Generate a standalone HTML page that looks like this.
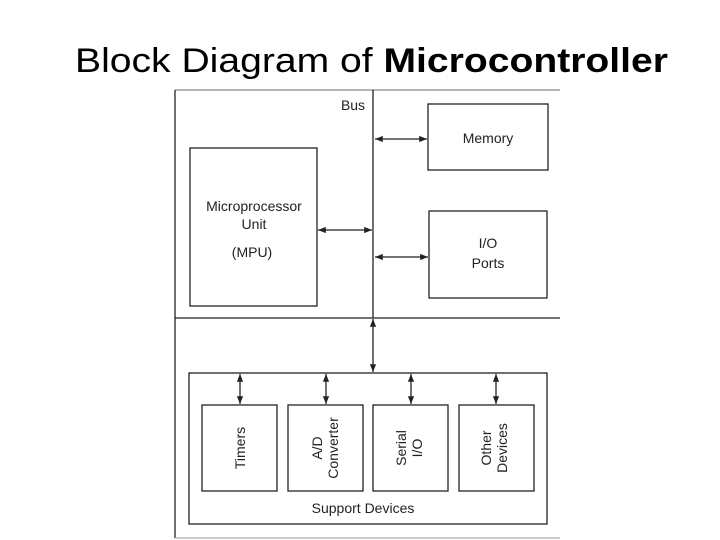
<!DOCTYPE html>
<html><head><style>body{margin:0;background:#fff;}svg{display:block}</style></head>
<body>
<svg width="720" height="540" xmlns="http://www.w3.org/2000/svg" font-family="Liberation Sans, DejaVu Sans, sans-serif">
<defs>
<marker id="a" viewBox="0 0 10 10" refX="10" refY="5" markerWidth="6" markerHeight="6" orient="auto-start-reverse"><path d="M0,1 L10,5 L0,9 z" fill="#222"/></marker>
</defs>
<text x="75" y="72" font-size="34" fill="#000" textLength="593" lengthAdjust="spacingAndGlyphs">Block Diagram of <tspan font-weight="bold">Microcontroller</tspan></text>
<g fill="none" stroke="#222" stroke-width="1.3">
<line x1="175" y1="90" x2="560" y2="90" stroke="#888"/>
<line x1="175" y1="90" x2="175" y2="538"/>
<line x1="175" y1="538" x2="560" y2="538" stroke="#aaa"/>
<line x1="175" y1="318" x2="560" y2="318"/>
<line x1="373" y1="90" x2="373" y2="318"/>
<rect x="190" y="148" width="127" height="158"/>
<rect x="428" y="104" width="120" height="66"/>
<rect x="429" y="211" width="118" height="87"/>
<rect x="189" y="373" width="358" height="151"/>
<rect x="202" y="405" width="75" height="86"/>
<rect x="288" y="405" width="75" height="86"/>
<rect x="373" y="405" width="75" height="86"/>
<rect x="459" y="405" width="75" height="86"/>
<line x1="375" y1="139" x2="427" y2="139" marker-start="url(#a)" marker-end="url(#a)"/>
<line x1="318" y1="230" x2="372" y2="230" marker-start="url(#a)" marker-end="url(#a)"/>
<line x1="375" y1="257" x2="428" y2="257" marker-start="url(#a)" marker-end="url(#a)"/>
<line x1="373" y1="319" x2="373" y2="372" marker-start="url(#a)" marker-end="url(#a)"/>
<line x1="240" y1="374" x2="240" y2="404" marker-start="url(#a)" marker-end="url(#a)"/>
<line x1="326" y1="374" x2="326" y2="404" marker-start="url(#a)" marker-end="url(#a)"/>
<line x1="411" y1="374" x2="411" y2="404" marker-start="url(#a)" marker-end="url(#a)"/>
<line x1="496" y1="374" x2="496" y2="404" marker-start="url(#a)" marker-end="url(#a)"/>
</g>
<g fill="#222" font-size="14" text-anchor="middle">
<text x="353" y="110">Bus</text>
<text x="488" y="143">Memory</text>
<text x="488" y="248">I/O</text>
<text x="488" y="268">Ports</text>
<text x="254" y="211">Microprocessor</text>
<text x="254" y="229">Unit</text>
<text x="252" y="257">(MPU)</text>
<text x="363" y="513">Support Devices</text>
<text transform="translate(245,448) rotate(-90)">Timers</text>
<text transform="translate(322,448) rotate(-90)">A/D</text>
<text transform="translate(338,448) rotate(-90)">Converter</text>
<text transform="translate(406,448) rotate(-90)">Serial</text>
<text transform="translate(422,448) rotate(-90)">I/O</text>
<text transform="translate(491,448) rotate(-90)">Other</text>
<text transform="translate(507,448) rotate(-90)">Devices</text>
</g>
</svg>
</body></html>
